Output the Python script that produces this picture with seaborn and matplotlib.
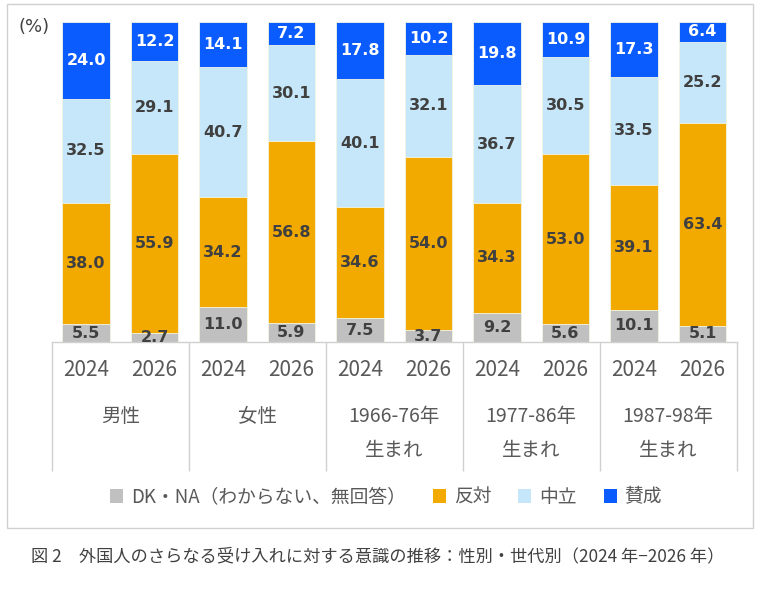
import pandas as pd
import seaborn as sns
import matplotlib.pyplot as plt
from matplotlib.patches import Rectangle, Patch

# data (%)
groups = ["男性", "女性", "1966-76年", "1977-86年", "1987-98年"]
group_sub = ["", "", "生まれ", "生まれ", "生まれ"]
years = ["2024", "2026"]
dkna = [5.5, 2.7, 11.0, 5.9, 7.5, 3.7, 9.2, 5.6, 10.1, 5.1]
hantai = [38.0, 55.9, 34.2, 56.8, 34.6, 54.0, 34.3, 53.0, 39.1, 63.4]
chuuritsu = [32.5, 29.1, 40.7, 30.1, 40.1, 32.1, 36.7, 30.5, 33.5, 25.2]
sansei = [24.0, 12.2, 14.1, 7.2, 17.8, 10.2, 19.8, 10.9, 17.3, 6.4]

series_names = ["DK・NA（わからない、無回答）", "反対", "中立", "賛成"]
colors = ["#C0C0C0", "#F2A900", "#C6E7F9", "#0A5CFF"]

bars = [g + "|" + y for g in groups for y in years]
df = pd.DataFrame({"bar": bars, "dkna": dkna, "hantai": hantai,
                   "chuuritsu": chuuritsu, "sansei": sansei})
cols = ["dkna", "hantai", "chuuritsu", "sansei"]
cum = df[cols].cumsum(axis=1)
for c in cols:
    df["cum_" + c] = cum[c]

sns.set_style("white")
plt.rcParams["font.family"] = ["Noto Sans CJK JP", "DejaVu Sans"]

fig = plt.figure(figsize=(7.6, 6.15), dpi=100)
ax = fig.add_axes([51.75 / 760, 1 - 342 / 615, 685 / 760, 320 / 615])

# stacked bars: draw cumulative totals from top layer down
for c, col in reversed(list(zip(cols, colors))):
    sns.barplot(data=df, x="bar", y="cum_" + c, color=col, saturation=1,
                width=0.7, edgecolor="#F3F6E4", linewidth=0.6, ax=ax)

# value labels
for i in range(len(df)):
    bottom = 0
    for c in cols:
        v = df.loc[i, c]
        ax.text(i, bottom + v / 2, f"{v:.1f}", ha="center", va="center",
                fontsize=11.5, fontweight="bold", family="DejaVu Sans",
                color="white" if c == "sansei" else "#404040", clip_on=True)
        bottom += v

ax.set_ylim(0, 100)
ax.set_xlim(-0.5, 9.5)
ax.set_yticks([])
ax.set_ylabel("")
ax.set_xlabel("")
ax.set_xticks(range(10))
ax.set_xticklabels(years * 5, fontsize=15, color="#595959")
ax.tick_params(axis="x", length=0, pad=12.5)
for s in ["top", "left", "right"]:
    ax.spines[s].set_visible(False)
ax.spines["bottom"].set_color("#D0D0D0")
ax.spines["bottom"].set_linewidth(1)

# group separators and group labels
ax.vlines([k - 0.5 for k in range(0, 11, 2)], -129 / 320, 0,
          transform=ax.get_xaxis_transform(), colors="#D0D0D0", lw=1,
          clip_on=False)
for k, (g, sub) in enumerate(zip(groups, group_sub)):
    ax.text(2 * k + 0.5, -74 / 320, g, transform=ax.get_xaxis_transform(),
            ha="center", va="center", fontsize=14, color="#595959")
    if sub:
        ax.text(2 * k + 0.5, -108 / 320, sub, transform=ax.get_xaxis_transform(),
                ha="center", va="center", fontsize=14, color="#595959")

fig.text(18 / 760, 1 - 27 / 615, "(%)", fontsize=13, family="DejaVu Sans",
         color="#404040", va="center", ha="left")

handles = [Patch(facecolor=c, edgecolor="none") for c in colors]
fig.legend(handles, series_names, loc="center", ncol=4,
           bbox_to_anchor=(386 / 760, 1 - 497 / 615), frameon=False,
           fontsize=13.5, handlelength=0.7, handleheight=0.7, handletextpad=0.4,
           columnspacing=1.45, labelcolor="#595959")

# chart frame
fig.add_artist(Rectangle((7 / 760, 1 - 528 / 615), 746 / 760, 524 / 615,
                         transform=fig.transFigure, fill=False,
                         edgecolor="#D0D0D0", lw=1))

fig.text(378 / 760, 1 - 556 / 615,
         "図 2　外国人のさらなる受け入れに対する意識の推移：性別・世代別（2024 年−2026 年）",
         ha="center", va="center", fontsize=12.4, color="#404040")

fig.savefig("out.png", dpi=100)
